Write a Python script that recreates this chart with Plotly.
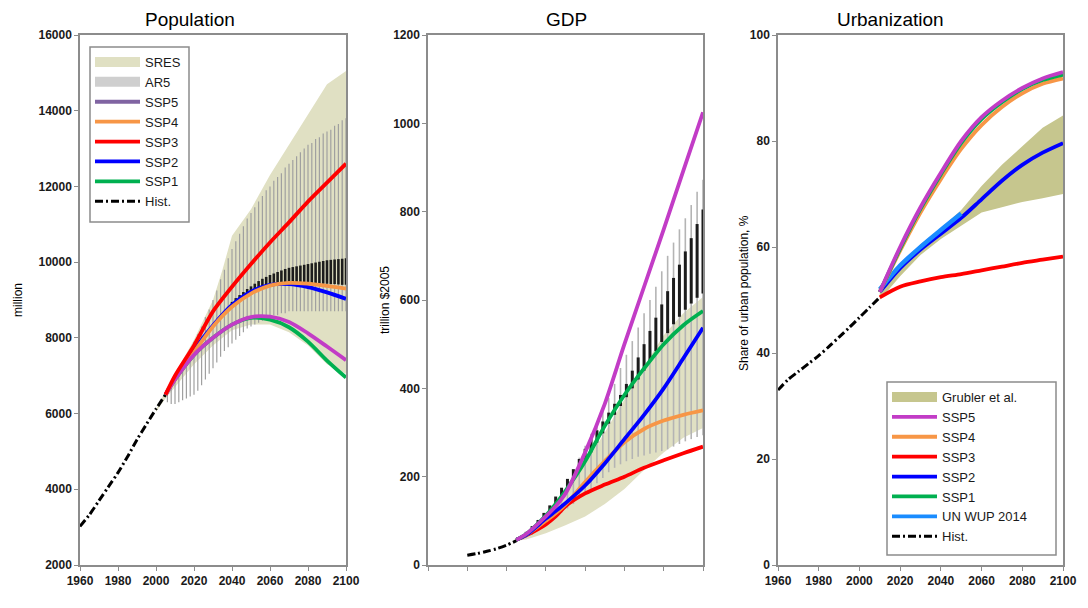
import numpy as np
import plotly.graph_objects as go

W, H = 1088, 608
FONT = "Liberation Sans, Arial, sans-serif"
TFONT = "Liberation Sans Narrow, Arial Narrow, Liberation Sans, Arial, sans-serif"

# ---------------- Population (million) ----------------
pop_hist_years = [1960, 1965, 1970, 1975, 1980, 1985, 1990, 1995, 2000, 2005]
pop_hist = [3020, 3330, 3700, 4070, 4440, 4860, 5310, 5720, 6120, 6500]

pop_years = [2005, 2010, 2020, 2030, 2040, 2050, 2060, 2070, 2080, 2090, 2100]
pop_ssp1 = [6500, 6900, 7550, 8000, 8350, 8530, 8480, 8280, 7900, 7400, 6950]
pop_ssp2 = [6500, 6920, 7680, 8330, 8870, 9220, 9400, 9420, 9340, 9200, 9030]
pop_ssp3 = [6500, 7000, 7800, 8700, 9350, 9950, 10520, 11050, 11600, 12100, 12600]
pop_ssp4 = [6500, 6900, 7620, 8300, 8820, 9170, 9380, 9450, 9430, 9370, 9300]
pop_ssp5 = [6500, 6900, 7550, 8000, 8350, 8550, 8560, 8420, 8120, 7770, 7410]

pop_sres_years = [2000, 2005, 2010, 2020, 2030, 2035, 2040, 2050, 2060, 2070, 2080, 2090, 2100]
pop_sres_hi = [6100, 6600, 7050, 7950, 9000, 9800, 10700, 11400, 12300, 13100, 13900, 14700, 15050]
pop_sres_lo = [6050, 6400, 6700, 7300, 7800, 8000, 8200, 8350, 8350, 8150, 7800, 7300, 7050]

pop_ar5_years = list(range(2006, 2101, 2))
pop_ar5_hi = [6650, 6800, 7000, 7150, 7350, 7500, 7700, 7900, 8100, 8300, 8550, 8750,
              9000, 9250, 9550, 9800, 10100, 10350, 10550, 10750, 10950, 11150, 11300, 11450,
              11600, 11750, 11900, 12000, 12150, 12250, 12350, 12500, 12600, 12700, 12800, 12900,
              13000, 13100, 13150, 13250, 13300, 13400, 13450, 13500, 13600, 13650, 13750, 13800]
pop_ar5_lo = [6300, 6250, 6250, 6300, 6350, 6400, 6450, 6500, 6600, 6750, 6900, 7050,
              7200, 7350, 7500, 7650, 7750, 7850, 7950, 8050, 8150, 8250, 8300, 8350,
              8400, 8450, 8500, 8550, 8600, 8600, 8650, 8650, 8700, 8700, 8700, 8700,
              8700, 8700, 8700, 8700, 8700, 8700, 8700, 8700, 8700, 8700, 8700, 8700]
pop_ar5c_years = list(range(2040, 2101, 2))
pop_ar5c_lo = [8850, 8930, 9000, 9080, 9150, 9200, 9250, 9300, 9340, 9370, 9400, 9420,
               9430, 9440, 9450, 9450, 9450, 9450, 9450, 9450, 9450, 9440, 9440, 9430,
               9430, 9430, 9420, 9420, 9410, 9400, 9400]
pop_ar5c_hi = [8950, 9050, 9130, 9210, 9290, 9360, 9430, 9500, 9560, 9610, 9660, 9700,
               9740, 9780, 9820, 9850, 9870, 9890, 9910, 9930, 9950, 9970, 9990, 10010,
               10030, 10050, 10060, 10070, 10080, 10090, 10100]

# ---------------- GDP (trillion $2005) ----------------
gdp_hist_years = [1980, 1985, 1990, 1995, 2000, 2005]
gdp_hist = [22, 26, 31, 37, 45, 55]

gdp_years = [2005, 2010, 2020, 2025, 2030, 2040, 2050, 2060, 2070, 2080, 2090, 2100]
gdp_ssp1 = [57, 70, 112, 138, 168, 235, 315, 385, 445, 500, 543, 575]
gdp_ssp2 = [57, 68, 105, 122, 140, 180, 230, 285, 340, 400, 468, 537]
gdp_ssp3 = [57, 67, 92, 110, 133, 162, 182, 200, 220, 237, 253, 268]
gdp_ssp4 = [57, 68, 100, 117, 137, 188, 235, 278, 308, 327, 340, 350]
gdp_ssp5 = [57, 70, 110, 133, 162, 255, 365, 500, 630, 760, 893, 1025]

gdp_sres_years = [2005, 2010, 2020, 2030, 2040, 2050, 2060, 2070, 2080, 2090, 2100]
gdp_sres_hi = [57, 68, 105, 160, 230, 300, 375, 450, 520, 570, 607]
gdp_sres_lo = [55, 58, 72, 90, 110, 138, 172, 215, 255, 288, 310]

gdp_ar5_years = list(range(2010, 2101, 3))
gdp_ar5_hi = [75, 88, 100, 115, 130, 150, 170, 192, 215, 243, 270, 297, 324, 351, 378, 410,
              446, 476, 507, 538, 570, 600, 630, 665, 700, 730, 760, 785, 815, 845, 872]
gdp_ar5_lo = [62, 68, 78, 88, 98, 108, 118, 128, 138, 150, 160, 172, 185, 197, 210, 220,
              228, 235, 240, 245, 248, 252, 255, 258, 262, 268, 274, 280, 285, 290, 294]
gdp_ar5c_hi = [75, 88, 102, 118, 135, 155, 175, 195, 217, 240, 263, 285, 305, 325, 345, 365,
               385, 410, 440, 470, 500, 530, 560, 590, 620, 650, 680, 710, 740, 772, 805]
gdp_ar5c_lo = [70, 80, 92, 105, 120, 137, 155, 175, 195, 215, 235, 255, 277, 298, 320, 340,
               360, 380, 400, 420, 440, 462, 484, 505, 525, 545, 562, 578, 592, 605, 615]

# ---------------- Urbanization (%) ----------------
urb_hist_years = [1960, 1965, 1970, 1975, 1980, 1985, 1990, 1995, 2000, 2005, 2010]
urb_hist = [33.0, 35.0, 36.5, 38.0, 39.5, 41.2, 43.0, 44.8, 46.7, 48.6, 50.5]

urb_years = [2010, 2020, 2030, 2040, 2050, 2060, 2070, 2080, 2090, 2100]
urb_ssp1 = [51.5, 59.7, 67.2, 73.7, 79.6, 84.1, 87.3, 89.8, 91.5, 92.5]
urb_ssp2 = [51.5, 56.0, 59.5, 62.5, 65.5, 69.0, 72.5, 75.5, 77.8, 79.6]
urb_ssp3 = [50.5, 52.5, 53.5, 54.3, 54.9, 55.6, 56.3, 57.0, 57.6, 58.2]
urb_ssp4 = [51.5, 59.3, 66.5, 72.8, 78.5, 83.0, 86.4, 89.0, 90.8, 91.8]
urb_ssp5 = [51.5, 60.0, 67.5, 74.0, 80.0, 84.5, 87.6, 90.0, 91.8, 93.0]
urb_wup_years = [2010, 2020, 2030, 2040, 2050]
urb_wup = [52.0, 56.5, 60.0, 63.2, 66.3]
urb_grub_years = [2010, 2020, 2030, 2040, 2050, 2060, 2070, 2080, 2090, 2100]
urb_grub_hi = [51.5, 56.5, 60.5, 63.5, 67.0, 71.5, 75.5, 79.0, 82.5, 84.8]
urb_grub_lo = [50.0, 54.5, 58.5, 61.5, 64.0, 66.5, 67.5, 68.5, 69.2, 70.0]

# ---------------- colours ----------------
C_SRES = "#e0e0c3"
C_AR5_LEG = "#cfcfcf"
C_AR5 = "#a0a0a0"
C_AR5C = "#1c1c1c"
C_SSP5 = "#c23cc6"
C_SSP5_LEG1 = "#8064a2"
C_SSP4 = "#f79646"
C_SSP3 = "#ff0000"
C_SSP2 = "#0000ff"
C_SSP1 = "#00b050"
C_WUP = "#1a8cff"
C_GRUB = "#c6c68e"
HIST_DASH = "8px,3px,2px,3px"
LW = 3.8

fig = go.Figure()


def band(xs, lo, hi, color, xa, ya):
    xs = list(xs)
    fig.add_trace(go.Scatter(x=xs + xs[::-1], y=list(hi) + list(lo)[::-1], fill="toself",
                             fillcolor=color, line=dict(width=0), mode="lines",
                             hoverinfo="skip", showlegend=False, xaxis=xa, yaxis=ya))


def bars(xs, lo, hi, color, width, xa, ya):
    # vertical range bars drawn as separate line segments (lo -> hi at each year)
    bx, by = [], []
    for x, l, h in zip(xs, lo, hi):
        bx += [x, x, None]
        by += [l, h, None]
    fig.add_trace(go.Scatter(x=bx, y=by, mode="lines", line=dict(color=color, width=width),
                             connectgaps=False, showlegend=False, hoverinfo="skip", xaxis=xa, yaxis=ya))


def line(xs, ys, color, xa, ya, width=LW, dash=None):
    fig.add_trace(go.Scatter(x=xs, y=ys, mode="lines",
                             line=dict(color=color, width=width, dash=dash, shape="spline", smoothing=0.8),
                             showlegend=False, hoverinfo="skip", xaxis=xa, yaxis=ya))


# Population panel
band(pop_sres_years, pop_sres_lo, pop_sres_hi, C_SRES, "x", "y")
bars(pop_ar5_years, pop_ar5_lo, pop_ar5_hi, C_AR5, 1.2, "x", "y")
bars(pop_ar5c_years, pop_ar5c_lo, pop_ar5c_hi, C_AR5C, 2.6, "x", "y")
line(pop_hist_years, pop_hist, "black", "x", "y", width=3, dash=HIST_DASH)
line(pop_years, pop_ssp1, C_SSP1, "x", "y")
line(pop_years, pop_ssp2, C_SSP2, "x", "y")
line(pop_years, pop_ssp4, C_SSP4, "x", "y")
line(pop_years, pop_ssp5, C_SSP5, "x", "y")
line(pop_years, pop_ssp3, C_SSP3, "x", "y")

# GDP panel
band(gdp_sres_years, gdp_sres_lo, gdp_sres_hi, C_SRES, "x2", "y2")
bars(gdp_ar5_years, gdp_ar5_lo, gdp_ar5_hi, "#b4b4b4", 1.6, "x2", "y2")
bars(gdp_ar5_years, gdp_ar5c_lo, gdp_ar5c_hi, C_AR5C, 3.0, "x2", "y2")
line(gdp_hist_years, gdp_hist, "black", "x2", "y2", width=3, dash=HIST_DASH)
line(gdp_years, gdp_ssp3, C_SSP3, "x2", "y2")
line(gdp_years, gdp_ssp4, C_SSP4, "x2", "y2")
line(gdp_years, gdp_ssp2, C_SSP2, "x2", "y2")
line(gdp_years, gdp_ssp1, C_SSP1, "x2", "y2")
line(gdp_years, gdp_ssp5, C_SSP5, "x2", "y2")

# Urbanization panel
band(urb_grub_years, urb_grub_lo, urb_grub_hi, C_GRUB, "x3", "y3")
line(urb_hist_years, urb_hist, "black", "x3", "y3", width=3, dash=HIST_DASH)
line(urb_years, urb_ssp3, C_SSP3, "x3", "y3")
line(urb_years, urb_ssp2, C_SSP2, "x3", "y3")
line(urb_wup_years, urb_wup, C_WUP, "x3", "y3", width=4.5)
line(urb_years, urb_ssp4, C_SSP4, "x3", "y3")
line(urb_years, urb_ssp1, C_SSP1, "x3", "y3")
line(urb_years, urb_ssp5, C_SSP5, "x3", "y3")


# legend entries (dummy traces to control the legend look)
def leg_line(name, color, legend, dash=None, width=LW):
    fig.add_trace(go.Scatter(x=[None], y=[None], name=name, mode="lines", line=dict(color=color, width=width, dash=dash),
                             legend=legend, xaxis="x", yaxis="y"))


leg_line("SRES", C_SRES, "legend", width=11)
leg_line("AR5", C_AR5_LEG, "legend", width=11)
leg_line("SSP5", C_SSP5_LEG1, "legend")
leg_line("SSP4", C_SSP4, "legend")
leg_line("SSP3", C_SSP3, "legend")
leg_line("SSP2", C_SSP2, "legend")
leg_line("SSP1", C_SSP1, "legend")
leg_line("Hist.", "black", "legend", dash=HIST_DASH, width=3)

leg_line("Grubler et al.", C_GRUB, "legend2", width=11)
leg_line("SSP5", C_SSP5, "legend2")
leg_line("SSP4", C_SSP4, "legend2")
leg_line("SSP3", C_SSP3, "legend2")
leg_line("SSP2", C_SSP2, "legend2")
leg_line("SSP1", C_SSP1, "legend2")
leg_line("UN WUP 2014", C_WUP, "legend2")
leg_line("Hist.", "black", "legend2", dash=HIST_DASH, width=3)

# ---------------- layout ----------------
YD = [1 - 565 / H, 1 - 35 / H]
tickfont = dict(family=FONT, size=12, color="#1a1a1a", weight="bold")
axcommon = dict(showgrid=False, zeroline=False, showline=True, mirror=True, linecolor="#8c8c8c", linewidth=1.5,
                ticks="outside", ticklen=4, tickcolor="#8c8c8c", tickfont=tickfont, tickformat="d")

legcommon = dict(xanchor="left", yanchor="top", borderwidth=0, bgcolor="rgba(0,0,0,0)",
                 font=dict(family=FONT, size=13, color="#1a1a1a"), itemwidth=45, tracegroupgap=0,
                 traceorder="normal", itemclick=False, itemdoubleclick=False)

fig.update_layout(
    width=W, height=H, margin=dict(l=0, r=0, t=0, b=0, autoexpand=False), plot_bgcolor="white", paper_bgcolor="white",
    hovermode=False,
    xaxis=dict(domain=[80 / W, 346 / W], range=[1960, 2100], tickvals=list(range(1960, 2101, 20)), anchor="y", **axcommon),
    yaxis=dict(domain=YD, range=[2000, 16000], tickvals=list(range(2000, 16001, 2000)), anchor="x", **axcommon),
    xaxis2=dict(domain=[428 / W, 703 / W], range=[1960, 2100], tickvals=list(range(1960, 2101, 20)),
                showticklabels=False, anchor="y2", **axcommon),
    yaxis2=dict(domain=YD, range=[0, 1200], tickvals=list(range(0, 1201, 200)), anchor="x2", **axcommon),
    xaxis3=dict(domain=[778 / W, 1063 / W], range=[1960, 2100], tickvals=list(range(1960, 2101, 20)), anchor="y3", **axcommon),
    yaxis3=dict(domain=YD, range=[0, 100], tickvals=list(range(0, 101, 20)), anchor="x3", **axcommon),
    legend=dict(x=90 / W, y=1 - 47 / H, **legcommon),
    legend2=dict(x=887 / W, y=1 - 382 / H, **legcommon),
    showlegend=True,
)

# legend frames (drawn as shapes so the box size matches the original)
for (x0, y0, x1, y1) in [(90, 47, 189, 222), (887, 382, 1056, 555)]:
    fig.add_shape(type="rect", xref="paper", yref="paper", x0=x0 / W, x1=x1 / W, y0=1 - y1 / H, y1=1 - y0 / H,
                  fillcolor="white", line=dict(color="#8c8c8c", width=1.5), layer="above")

annots = [
    dict(text="Population", x=190 / W, y=1 - 19 / H, font=dict(family=TFONT, size=19, color="black")),
    dict(text="GDP", x=566 / W, y=1 - 19 / H, font=dict(family=TFONT, size=19, color="black")),
    dict(text="Urbanization", x=890 / W, y=1 - 19 / H, font=dict(family=TFONT, size=19, color="black")),
    dict(text="million", x=18 / W, y=1 - 300 / H, textangle=-90, font=dict(family=FONT, size=12, color="black")),
    dict(text="trillion $2005", x=385 / W, y=1 - 300 / H, textangle=-90, font=dict(family=FONT, size=12, color="black")),
    dict(text="Share of urban population, %", x=744 / W, y=1 - 293 / H, textangle=-90,
         font=dict(family=FONT, size=12, color="black")),
]
for a in annots:
    fig.add_annotation(xref="paper", yref="paper", showarrow=False, xanchor="center", yanchor="middle", **a)

fig.write_html("out.html", config={"displayModeBar": False},
               post_script="document.body.style.margin='0px';")
